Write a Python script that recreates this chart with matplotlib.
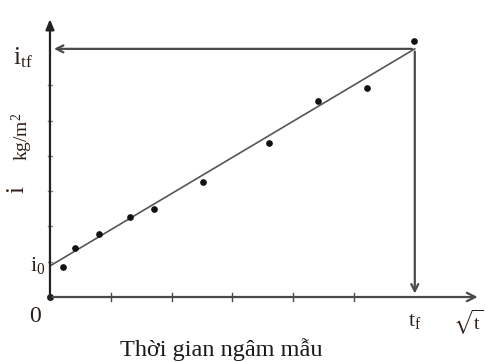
import matplotlib
matplotlib.use("Agg")
import matplotlib.pyplot as plt
import numpy as np

plt.rcParams['font.family'] = ['Liberation Serif', 'DejaVu Serif']
plt.rcParams['mathtext.fontset'] = 'stix'

# measured points (sqrt t in tick units, i in tick units)
t_vals = [0.21, 0.41, 0.81, 1.32, 1.71, 2.52, 3.60, 4.40, 5.21, 5.99]
i_vals = [0.84, 1.38, 1.78, 2.26, 2.48, 3.26, 4.36, 5.56, 5.93, 7.26]

# fitted line ends
t_f = 6.0
i_0 = 0.88
i_tf = 7.03
x_ticks = [1, 2, 3, 4, 5]
y_ticks = [1, 2, 3, 4, 5, 6]

TXT = '#2e1f16'
AX = '#4a4a4a'

fig = plt.figure(figsize=(4.86, 3.62), dpi=100)
ax = fig.add_axes([0, 0, 1, 1])
ax.set_xlim(-0.822, 7.171)
ax.set_ylim(-1.841, 8.414)
ax.axis('off')

# axes with arrows
ax.annotate('', xy=(7.08, 0), xytext=(0, 0),
            arrowprops=dict(arrowstyle='->,head_length=0.6,head_width=0.3', color=AX, lw=1.6))
ax.annotate('', xy=(0, 7.95), xytext=(0, 0),
            arrowprops=dict(arrowstyle='-|>,head_length=0.6,head_width=0.25', color='#222222', lw=1.6))
ax.plot([0], [0], 'o', color='#222222', ms=4)

# small ticks
for xt in x_ticks:
    ax.plot([xt, xt], [-0.1, 0.1], color=AX, lw=1.0)
for yt in y_ticks:
    ax.plot([-0.025, 0.025], [yt, yt], color='#888888', lw=1.0)

# projection arrows from the last point
ax.annotate('', xy=(0.02, i_tf), xytext=(t_f, i_tf),
            arrowprops=dict(arrowstyle='->,head_length=0.5,head_width=0.25', color=AX, lw=1.6))
ax.annotate('', xy=(t_f, 0.02), xytext=(t_f, i_tf),
            arrowprops=dict(arrowstyle='->,head_length=0.5,head_width=0.25', color=AX, lw=1.6))

# fitted line and data
ax.plot([0, t_f], [i_0, i_tf], color='#555555', lw=1.2)
ax.plot(t_vals, i_vals, 'o', color='#111111', ms=3.8)

# labels
ax.text(-0.45, i_tf - 0.25, r'$\mathregular{i_{tf}}$', color=TXT, fontsize=18, ha='center', va='center')
ax.text(-0.53, 3.05, 'i', color=TXT, fontsize=18, rotation=90, ha='center', va='center')
ax.text(-0.45, 4.55, r'$\mathregular{kg/m^{2}}$', color=TXT, fontsize=14, rotation=90, ha='center', va='center')
ax.text(-0.2, 0.9, r'$\mathregular{i_{0}}$', color=TXT, fontsize=16, ha='center', va='center')
ax.text(-0.25, -0.55, '0', color=TXT, fontsize=17, ha='center', va='center')
ax.text(t_f, -0.7, r'$\mathregular{t_{f}}$', color=TXT, fontsize=16, ha='center', va='center')
ax.text(6.88, -0.72, r'$\sqrt{\mathregular{t}}$', color=TXT, fontsize=14, ha='center', va='center')
ax.text(2.81, -1.5, 'Thời gian ngâm mẫu', color='#1a1a1a', fontsize=17.5, ha='center', va='center')

fig.savefig('out.png', dpi=100)
